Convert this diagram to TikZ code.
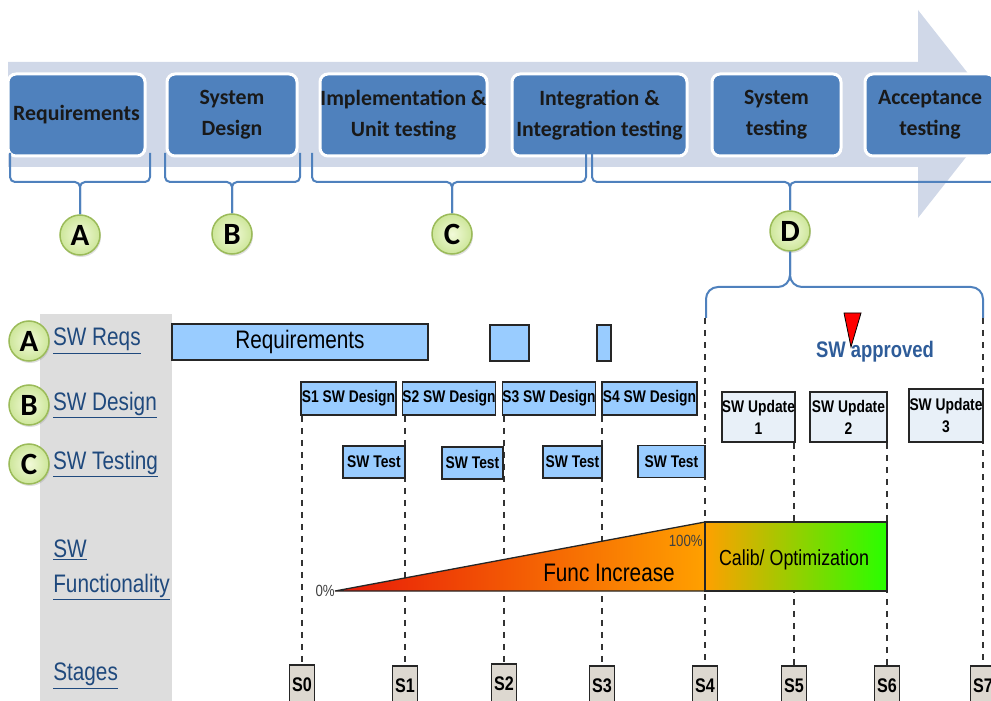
\documentclass[tikz,border=0pt]{standalone}
\usepackage{fontspec}
\usepackage{tikz}
\usetikzlibrary{positioning, shadows, backgrounds}
\newfontfamily\narrowfont[FakeStretch=0.82]{Liberation Sans}
\newfontfamily\calfont{Carlito}
\newlength\pxu \setlength\pxu{0.025cm}
\newcommand\fsz[2]{\fontsize{#1}{#2}\selectfont}
\definecolor{bandgray}{RGB}{208,216,232}
\definecolor{phaseblue}{RGB}{79,129,189}
\definecolor{barblue}{RGB}{153,204,255}
\definecolor{updfill}{RGB}{232,240,248}
\definecolor{labelblue}{RGB}{31,73,125}
\definecolor{okblue}{RGB}{46,92,153}
\definecolor{panelgray}{RGB}{221,221,221}
\definecolor{stagefill}{RGB}{221,216,208}
\definecolor{circlein}{RGB}{242,250,217}
\definecolor{circleout}{RGB}{205,230,154}
\definecolor{circleline}{RGB}{155,187,89}
\definecolor{funcred}{RGB}{232,24,8}
\definecolor{funcorange}{RGB}{255,160,0}
\definecolor{funcgreen}{RGB}{40,255,0}

\begin{document}
\begin{tikzpicture}[x=0.025cm, y=-0.025cm,
  phase/.style={rectangle, rounded corners=8\pxu, draw=white, line width=3\pxu,
                fill=phaseblue, text=black!90, inner sep=0pt, align=center,
                minimum height=82\pxu, font=\calfont\bfseries\fsz{15.5}{22}},
  brace/.style={draw=phaseblue, line width=2\pxu, rounded corners=5\pxu},
  tagcircle/.style={circle, draw=circleline, line width=1.5\pxu, inner color=circlein,
                    outer color=circleout, minimum size=40\pxu, inner sep=0pt,
                    font=\calfont\bfseries\fsz{22}{22},
                    drop shadow={opacity=0.25, shadow xshift=1\pxu, shadow yshift=-2\pxu}},
  rowlabel/.style={anchor=west, text=labelblue, inner sep=0pt, align=left,
                   font=\narrowfont\fsz{18}{25}},
  bar/.style={rectangle, draw=black!85, line width=1.5\pxu, fill=barblue, inner sep=0pt},
  designbox/.style={bar, minimum height=33\pxu, font=\narrowfont\bfseries\fsz{12}{14}},
  testbox/.style={designbox, minimum height=32\pxu},
  updbox/.style={rectangle, draw=black!85, line width=1.5\pxu, fill=updfill, inner sep=0pt,
                 align=center, minimum height=50\pxu, font=\narrowfont\bfseries\fsz{12}{15.5}},
  stagebox/.style={rectangle, draw=black!85, line width=1.5\pxu, fill=stagefill,
                   minimum width=25\pxu, minimum height=40\pxu, inner sep=0pt,
                   font=\narrowfont\bfseries\fsz{14}{14}},
  vline/.style={black!80, line width=1.3\pxu, dash pattern=on 6\pxu off 6\pxu},
  funcline/.style={draw=black!85, line width=1.3\pxu}
]
\useasboundingbox (0,0) rectangle (991,701);

\fill[bandgray] (8,62) -- (918,62) -- (918,10) -- (1000,114) -- (918,218) -- (918,167) -- (8,167) -- cycle;

\node[phase, minimum width=137\pxu] (ph1) at (76.5,115) {Requirements};
\node[phase, minimum width=130\pxu] (ph2) at (232,115) {System\\Design};
\node[phase, minimum width=167\pxu] (ph3) at (403.5,115) {Implementation \&\\Unit testing};
\node[phase, minimum width=175\pxu] (ph4) at (599.5,115) {Integration \&\\Integration testing};
\node[phase, minimum width=129\pxu] (ph5) at (776.5,115) {System\\testing};
\node[phase, minimum width=130\pxu] (ph6) at (930,115) {Acceptance\\testing};

\node[tagcircle] (cA) at (80,235) {A};
\node[tagcircle] (cB) at (232,234) {B};
\node[tagcircle] (cC) at (452,234) {C};
\node[tagcircle] (cD) at (790,231) {D};

\draw[brace] (10,153) -- (10,182) -- (80,182) -- (cA.north);
\draw[brace] (150,153) -- (150,182) -- (80,182) -- (cA.north);
\draw[brace] (165,153) -- (165,182) -- (232,182) -- (cB.north);
\draw[brace] (300,153) -- (300,182) -- (232,182) -- (cB.north);
\draw[brace] (312,153) -- (312,182) -- (452,182) -- (cC.north);
\draw[brace] (586,153) -- (586,182) -- (452,182) -- (cC.north);
\draw[brace] (592,153) -- (592,182) -- (790,182) -- (cD.north);
\draw[brace] (1000,182) -- (790,182) -- (cD.north);

\coordinate (dL) at (706,318);
\coordinate (dR) at (983,318);
\draw[brace, rounded corners=12\pxu] (dL) -- (706,287) -- (790,287) -- (cD.south);
\draw[brace, rounded corners=12\pxu] (dR) -- (983,287) -- (790,287) -- (cD.south);

\fill[panelgray] (40,314) rectangle (172,705);

\node[tagcircle] (lA) at (29,341) {A};
\node[rowlabel, right=3\pxu of lA] (lreq) {\underline{SW Reqs}};
\node[tagcircle] (lB) at (29,405) {B};
\node[rowlabel, right=3\pxu of lB] (ldes) {\underline{SW Design}};
\node[tagcircle] (lC) at (29,464) {C};
\node[rowlabel, right=3\pxu of lC] (ltst) {\underline{SW Testing}};
\node[rowlabel] (lfun) at (53,570) {\underline{SW}\\\underline{Functionality}};
\node[rowlabel] (lstg) at (53,676) {\underline{Stages}};

\node[bar, minimum width=256\pxu, minimum height=36\pxu, font=\narrowfont\fsz{18}{18}] (req1) at (300,342) {Requirements};
\node[bar, minimum width=39\pxu, minimum height=36\pxu] (req2) at (509.5,343) {};
\node[bar, minimum width=14\pxu, minimum height=36\pxu] (req3) at (604,343) {};

\node[designbox, minimum width=95\pxu] (des1) at (348.5,398.5) {S1 SW Design};
\node[designbox, minimum width=90\pxu] (des2) at (449,398.5) {S2 SW Design};
\node[designbox, minimum width=92\pxu] (des3) at (549,398.5) {S3 SW Design};
\node[designbox, minimum width=95\pxu] (des4) at (649.5,398.5) {S4 SW Design};

\node[testbox, minimum width=62\pxu] (tst1) at (374,462) {SW Test};
\node[testbox, minimum width=61\pxu] (tst2) at (472.5,463) {SW Test};
\node[testbox, minimum width=59\pxu] (tst3) at (572.5,462) {SW Test};
\node[testbox, minimum width=67\pxu] (tst4) at (671.5,461.5) {SW Test};

\node[updbox, minimum width=73\pxu] (upd1) at (758.5,417) {SW Update\\1};
\node[updbox, minimum width=77\pxu] (upd2) at (848.5,417) {SW Update\\2};
\node[updbox, minimum width=74\pxu, minimum height=53\pxu] (upd3) at (946,415.5) {SW Update\\3};

\node[text=okblue, font=\narrowfont\bfseries\fsz{16}{16}] (appr) at (875,352) {SW approved};
\fill[red, draw=black, line width=0.8\pxu] (844,313) -- (861,313) -- (851,347) -- cycle;

\node[stagebox] (st0) at (302,685) {S0};
\node[stagebox] (st1) at (405,686) {S1};
\node[stagebox] (st2) at (504,684) {S2};
\node[stagebox] (st3) at (602,686) {S3};
\node[stagebox] (st4) at (705,686) {S4};
\node[stagebox] (st5) at (794,686) {S5};
\node[stagebox] (st6) at (887,686) {S6};
\node[stagebox] (st7) at (983,686) {S7};

\coordinate (f0) at (335,591);
\coordinate (ftop) at (705,522);
\coordinate (fbot) at (705,591);
\coordinate (fend) at (887,591);
\path[funcline, left color=funcred, right color=funcorange] (f0) -- (ftop) -- (fbot) -- cycle;
\path[funcline, left color=funcorange, right color=funcgreen] (ftop) rectangle (fend);
\node[anchor=east, inner sep=0pt, text=black!75, font=\narrowfont\fsz{11.5}{11.5}] (p0) at (f0) {0\%};
\node[anchor=east, inner sep=0pt, text=black!75, font=\narrowfont\fsz{11.5}{11.5}] (p100) at (703,541) {100\%};
\node[font=\narrowfont\fsz{18}{18}] (finc) at (609,573) {Func Increase};
\node[font=\narrowfont\fsz{15.5}{15.5}] (fcal) at (794,560) {Calib/ Optimization};

\begin{scope}[on background layer]
\draw[vline] (st0.north |- des1.south) -- (st0.north);
\draw[vline] (st1.north |- des2.south) -- (st1.north);
\draw[vline] (st2.north |- des3.south) -- (st2.north);
\draw[vline] (st3.north |- des4.south) -- (st3.north);
\draw[vline] (st4.north |- dL) -- (st4.north);
\draw[vline] (st5.north |- upd1.south) -- (st5.north);
\draw[vline] (st6.north |- upd2.south) -- (st6.north);
\draw[vline] (st7.north |- dR) -- (st7.north);
\end{scope}
\end{tikzpicture}
\end{document}
